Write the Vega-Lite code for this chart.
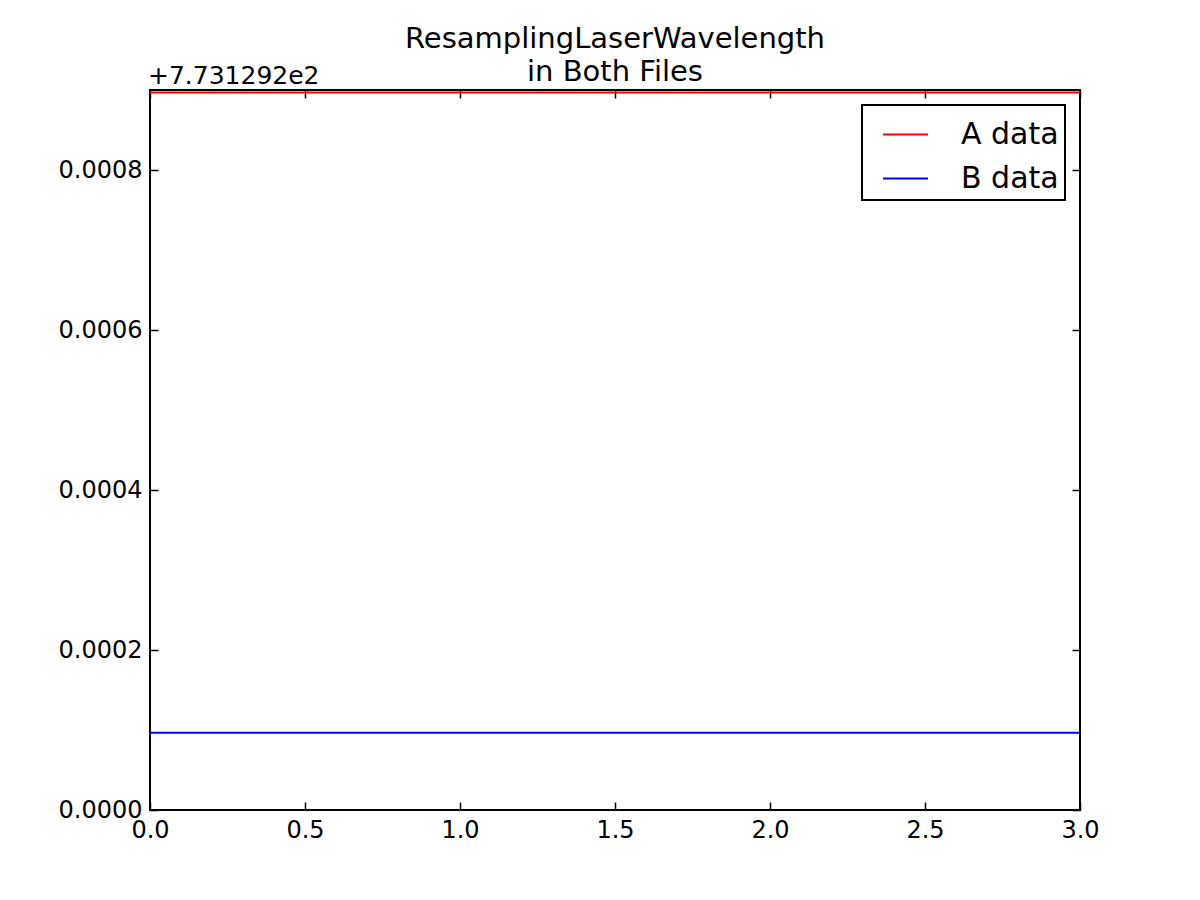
{
  "$schema": "https://vega.github.io/schema/vega-lite/v6.json",
  "width": 930,
  "height": 720,
  "autosize": {"type": "none"},
  "padding": {"left": 150, "top": 90, "right": 120, "bottom": 90},
  "background": "white",
  "config": {
    "font": "DejaVu Sans",
    "view": {"stroke": "black", "strokeWidth": 2},
    "axis": {
      "domain": false,
      "grid": false,
      "ticks": true,
      "tickColor": "black",
      "tickWidth": 1.5,
      "tickSize": -8,
      "labelFont": "DejaVu Sans",
      "labelFontSize": 24,
      "labelColor": "black",
      "title": null
    },
    "legend": {
      "strokeColor": "black",
      "strokeWidth": 2,
      "fillColor": "white",
      "cornerRadius": 0
    }
  },
  "title": {
    "text": ["ResamplingLaserWavelength", "in Both Files"],
    "font": "DejaVu Sans",
    "fontSize": 29,
    "fontWeight": "normal",
    "color": "black",
    "anchor": "middle",
    "frame": "group",
    "lineHeight": 33,
    "offset": -23
  },
  "datasets": {
    "lines": [
      {"x": 0, "value": 0.000897, "series": "A data"},
      {"x": 1, "value": 0.000897, "series": "A data"},
      {"x": 2, "value": 0.000897, "series": "A data"},
      {"x": 3, "value": 0.000897, "series": "A data"},
      {"x": 0, "value": 0.0000966, "series": "B data"},
      {"x": 1, "value": 0.0000966, "series": "B data"},
      {"x": 2, "value": 0.0000966, "series": "B data"},
      {"x": 3, "value": 0.0000966, "series": "B data"}
    ],
    "offsetLabel": [{"label": "+7.731292e2"}]
  },
  "layer": [
    {
      "data": {"name": "lines"},
      "mark": {"type": "line", "strokeWidth": 2},
      "encoding": {
        "x": {
          "field": "x", "type": "quantitative",
          "scale": {"domain": [0, 3], "nice": false, "zero": false},
          "axis": {"orient": "bottom", "values": [0, 0.5, 1, 1.5, 2, 2.5, 3], "format": ".1f", "labelPadding": 16, "labelFlush": false}
        },
        "y": {
          "field": "value", "type": "quantitative",
          "scale": {"domain": [0, 0.0009], "nice": false, "zero": false},
          "axis": {"orient": "left", "values": [0, 0.0002, 0.0004, 0.0006, 0.0008], "format": ".4f", "labelPadding": 16}
        },
        "color": {
          "field": "series", "type": "nominal",
          "scale": {"domain": ["A data", "B data"], "range": ["#ff0000", "#0000ff"]},
          "legend": {
            "title": null,
            "orient": "none",
            "legendX": 712,
            "legendY": 15,
            "symbolType": "stroke",
            "symbolSize": 2025,
            "symbolStrokeWidth": 2,
            "symbolOffset": 14,
            "labelFont": "DejaVu Sans",
            "labelFontSize": 30,
            "labelColor": "black",
            "labelOffset": 32,
            "padding": 6,
            "rowPadding": 5
          }
        }
      }
    },
    {
      "data": {"name": "lines"},
      "mark": {"type": "line", "strokeOpacity": 0},
      "encoding": {
        "x": {
          "field": "x", "type": "quantitative",
          "axis": {"orient": "top", "values": [0, 0.5, 1, 1.5, 2, 2.5, 3], "labels": false}
        },
        "y": {
          "field": "value", "type": "quantitative",
          "axis": {"orient": "right", "values": [0, 0.0002, 0.0004, 0.0006, 0.0008], "labels": false}
        },
        "detail": {"field": "series", "type": "nominal"}
      }
    },
    {
      "data": {"name": "offsetLabel"},
      "mark": {"type": "text", "align": "left", "baseline": "alphabetic", "dy": -6, "dx": -2, "fontSize": 25, "font": "DejaVu Sans", "color": "black"},
      "encoding": {
        "x": {"datum": 0, "type": "quantitative", "axis": null},
        "y": {"datum": 0.0009, "type": "quantitative", "axis": null},
        "text": {"field": "label", "type": "nominal"}
      }
    }
  ],
  "resolve": {"axis": {"x": "independent", "y": "independent"}}
}
